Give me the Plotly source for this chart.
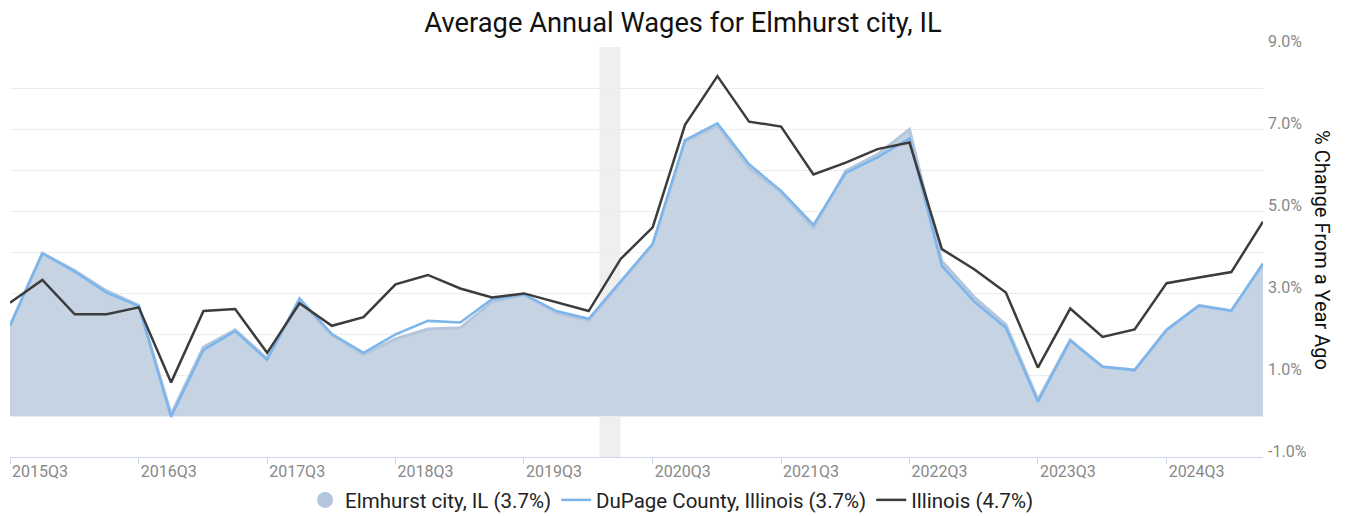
import pandas as pd
import plotly.graph_objects as go

# ---- data ----
start_quarter = "2015Q3"
n_quarters = 40
dates = pd.period_range(start_quarter, periods=n_quarters, freq="Q").to_timestamp()

elmhurst = [2.20, 3.97, 3.55, 3.05, 2.70, 0.05, 1.68, 2.10, 1.40, 2.82,
            1.98, 1.50, 1.88, 2.12, 2.15, 2.78, 2.95, 2.52, 2.33, 3.25,
            4.18, 6.70, 7.08, 6.05, 5.45, 4.58, 5.98, 6.38, 6.99, 3.78,
            2.90, 2.23, 0.40, 1.86, 1.20, 1.12, 2.10, 2.70, 2.57, 3.70]
dupage = [2.20, 3.97, 3.52, 3.01, 2.68, -0.02, 1.61, 2.07, 1.37, 2.87,
          2.00, 1.54, 1.99, 2.32, 2.28, 2.85, 2.97, 2.56, 2.37, 3.28,
          4.20, 6.73, 7.14, 6.14, 5.49, 4.66, 5.93, 6.31, 6.77, 3.66,
          2.79, 2.15, 0.35, 1.84, 1.20, 1.12, 2.10, 2.69, 2.57, 3.72]
illinois = [2.76, 3.32, 2.48, 2.48, 2.65, 0.82, 2.56, 2.61, 1.54, 2.75,
            2.20, 2.41, 3.21, 3.44, 3.11, 2.89, 2.99, 2.77, 2.56, 3.83,
            4.60, 7.10, 8.29, 7.18, 7.06, 5.89, 6.18, 6.51, 6.67, 4.07,
            3.58, 3.01, 1.18, 2.62, 1.93, 2.11, 3.24, 3.38, 3.51, 4.74]

names = ["Elmhurst city, IL (3.7%)", "DuPage County, Illinois (3.7%)", "Illinois (4.7%)"]

tick_dates = pd.to_datetime([f"{y}-07-01" for y in range(2015, 2025)])
tick_labels = [f"{y}Q3" for y in range(2015, 2025)]

y_vals = list(range(-1, 10))
y_text = [f"{v:.1f}%" if v % 2 != 0 else "" for v in y_vals]

recession = ("2020-02-01", "2020-04-01")

title = "Average Annual Wages for Elmhurst city, IL"
y_title = "% Change From a Year Ago"

# ---- styles ----
FONT = "Roboto"
area_fill = "rgba(197,211,227,1)"
area_line = "rgb(180,198,220)"
blue = "rgb(124,181,236)"
dark = "rgb(60,60,60)"

fig = go.Figure()
fig.add_vrect(x0=recession[0], x1=recession[1], fillcolor="#efefef",
              line_width=0, layer="below")

fig.add_trace(go.Scatter(x=dates, y=elmhurst, mode="lines", fill="tozeroy",
                         fillcolor=area_fill, line=dict(color=area_line, width=3),
                         showlegend=False, hoverinfo="skip"))
# legend proxy for the area series
fig.add_trace(go.Scatter(x=[None], y=[None], mode="markers", name=names[0],
                         marker=dict(symbol="circle", size=20, color="rgb(179,198,222)")))
fig.add_trace(go.Scatter(x=dates, y=dupage, mode="lines", name=names[1],
                         line=dict(color=blue, width=2.5)))
fig.add_trace(go.Scatter(x=dates, y=illinois, mode="lines", name=names[2],
                         line=dict(color=dark, width=2.5)))

fig.update_layout(
    width=1350, height=508,
    margin=dict(l=2, r=95, t=39, b=59, autoexpand=False),
    paper_bgcolor="white", plot_bgcolor="white",
    font=dict(family=FONT, color="#333"),
    title=dict(text=title, x=0.5, xanchor="center", y=0.972, yanchor="middle",
               font=dict(size=27.3, color="#111", family=FONT)),
    xaxis=dict(type="date", range=[dates[0], dates[-1]], automargin=False,
               tickvals=tick_dates, ticktext=tick_labels,
               showgrid=False, showline=True, linecolor="#ccd6eb", linewidth=1,
               ticks="outside", ticklen=6, tickcolor="#ccd6eb",
               ticklabelshift=30, ticklabelstandoff=-6,
               tickfont=dict(size=16, color="#888", family=FONT), zeroline=False),
    yaxis=dict(side="right", range=[-1, 9], tickvals=y_vals, ticktext=y_text,
               automargin=False,
               showgrid=True, gridcolor="#ececec", gridwidth=1,
               zeroline=False, showline=False, ticks="",
               ticklabelshift=-6, ticklabelstandoff=4,
               tickfont=dict(size=16, color="#888", family=FONT)),
    legend=dict(orientation="h", x=0.528, xanchor="center", y=-0.105, yanchor="middle",
                font=dict(size=20.5, color="#222", family=FONT),
                itemwidth=30, tracegroupgap=0),
    annotations=[dict(text=y_title, xref="paper", yref="paper", x=1.047, y=0.505,
                      textangle=90, showarrow=False, xanchor="center", yanchor="middle",
                      font=dict(size=20, color="#111", family=FONT))],
)

fig.write_html("out.html")
